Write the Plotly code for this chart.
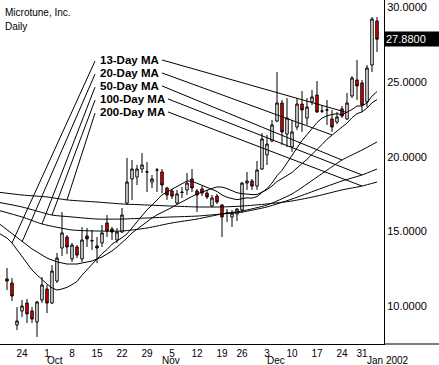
import plotly.graph_objects as go
import pandas as pd

# ---------------- data ----------------
HOLIDAYS = ["2001-11-22", "2001-12-25", "2002-01-01"]
trade_days = [d.strftime("%Y-%m-%d") for d in pd.bdate_range("2001-09-17", "2002-01-04")
              if d.strftime("%Y-%m-%d") not in HOLIDAYS]
# trading-day index (Sep 19 2001 = 0)
IDX = {d: i - 2 for i, d in enumerate(trade_days)}
candle_dates = trade_days[2:]

opens = [11.83, 11.56, 8.75, 9.69, 10.22, 9.69, 8.95, 10.42, 11.16, 10.22,
         11.69, 13.90, 14.64, 13.17, 13.97, 13.17, 14.71, 14.37, 14.04, 14.24,
         15.58, 15.17, 14.44, 14.97, 16.91, 18.52, 18.65, 19.19, 18.99, 18.32,
         19.12, 18.99, 17.92, 17.72, 16.91, 17.65, 17.79, 18.52, 17.72, 17.85,
         17.58, 16.71, 17.38, 16.78, 16.24, 15.98, 16.18, 16.45, 18.25, 18.39,
         18.05, 19.19, 20.13, 21.06, 22.40, 23.61, 21.53, 20.66, 22.00, 23.54,
         22.60, 23.68, 24.14, 23.07, 23.14, 22.54, 22.33, 23.21, 22.54, 24.08,
         25.15, 24.95, 23.68, 26.15, 29.10]
highs = [12.56, 11.89, 9.95, 10.42, 10.49, 9.95, 10.36, 11.96, 11.43, 12.76,
         13.57, 16.31, 14.77, 14.24, 14.10, 15.31, 15.24, 15.11, 14.64, 15.44,
         16.11, 15.31, 15.24, 16.58, 19.93, 19.79, 19.46, 20.26, 19.66, 18.79,
         19.26, 19.19, 17.99, 17.85, 17.79, 17.99, 18.92, 19.19, 17.85, 18.05,
         17.79, 17.45, 17.52, 16.85, 16.51, 16.45, 16.58, 18.32, 18.99, 18.52,
         19.73, 21.60, 21.47, 22.47, 25.68, 23.81, 23.94, 22.47, 23.94, 24.41,
         23.94, 24.48, 25.08, 23.47, 23.81, 23.14, 23.01, 23.41, 24.28, 25.41,
         26.49, 25.15, 26.15, 29.36, 29.36]
lows = [11.09, 10.36, 8.41, 9.28, 8.88, 8.88, 7.95, 10.22, 9.55, 10.15,
        11.56, 13.37, 13.50, 12.97, 13.23, 12.97, 13.97, 13.77, 12.90, 13.97,
        14.64, 14.44, 14.24, 14.91, 16.78, 17.12, 18.12, 18.92, 17.65, 17.92,
        17.65, 17.58, 17.12, 17.18, 16.85, 17.25, 17.45, 17.65, 16.31, 17.38,
        17.18, 16.65, 16.85, 14.64, 15.64, 15.31, 15.71, 16.24, 17.79, 17.79,
        17.79, 19.12, 19.46, 21.00, 22.33, 20.80, 20.66, 20.33, 21.80, 21.67,
        22.14, 23.47, 22.94, 22.94, 22.14, 21.67, 22.20, 22.60, 22.47, 23.94,
        23.81, 23.01, 23.34, 25.68, 27.02]
closes = [11.69, 10.69, 9.02, 10.02, 9.49, 9.15, 10.29, 11.43, 10.22, 12.36,
          13.23, 14.91, 13.97, 14.10, 13.43, 14.44, 14.51, 14.40, 13.90, 14.91,
          15.04, 14.97, 14.97, 16.11, 18.32, 19.19, 19.19, 19.46, 19.00, 18.52,
          19.12, 18.12, 17.45, 17.38, 17.52, 17.62, 18.25, 17.92, 17.45, 17.58,
          17.32, 17.25, 16.98, 15.98, 16.24, 16.24, 16.51, 18.25, 18.39, 18.05,
          19.12, 21.20, 20.86, 22.14, 23.61, 21.67, 22.60, 21.67, 23.54, 23.14,
          23.34, 24.01, 23.01, 23.07, 23.14, 22.00, 22.67, 22.74, 23.61, 25.28,
          24.75, 23.47, 25.95, 29.23, 27.88]

# moving averages
ma13_dates = trade_days
ma13_vals = [14.97, 14.77, 14.57, 14.24, 13.77, 13.30, 12.90, 12.43, 12.10, 11.76,
             11.49, 11.23, 11.09, 11.16, 11.27, 11.45, 11.66, 12.08, 12.42, 12.80,
             13.17, 13.52, 13.80, 14.16, 14.36, 14.59, 14.85, 15.25, 15.64, 16.10,
             16.46, 16.77, 17.13, 17.46, 17.65, 17.83, 18.03, 18.23, 18.39, 18.37,
             18.23, 18.11, 17.94, 17.80, 17.69, 17.45, 17.30, 17.21, 17.14, 17.20,
             17.26, 17.24, 17.34, 17.62, 17.88, 18.25, 18.74, 19.10, 19.61, 20.03,
             20.58, 21.10, 21.49, 21.92, 22.30, 22.60, 22.75, 22.84, 22.89, 22.82,
             22.97, 23.17, 23.41, 23.40, 23.62, 24.07, 24.37]
ma20_dates = trade_days
ma20_vals = [15.64, 15.38, 15.11, 14.84, 14.57, 14.30, 14.04, 13.84, 13.64, 13.43,
             13.23, 13.10, 12.97, 12.90, 12.83, 12.83, 12.83, 12.90, 12.97, 13.03,
             13.17, 13.30, 13.50, 13.70, 13.97, 14.24, 14.57, 14.91, 15.17, 15.44,
             15.71, 15.91, 16.12, 16.28, 16.45, 16.62, 16.82, 16.98, 17.17, 17.35,
             17.52, 17.66, 17.77, 17.89, 17.99, 17.98, 17.88, 17.73, 17.60, 17.54,
             17.50, 17.48, 17.48, 17.64, 17.81, 18.05, 18.35, 18.55, 18.77, 18.96,
             19.26, 19.54, 19.84, 20.17, 20.48, 20.83, 21.18, 21.47, 21.77, 22.00,
             22.26, 22.62, 22.90, 23.01, 23.27, 23.62, 23.84]
ma50_dates = ["2001-09-17", "2001-09-24", "2001-09-28", "2001-10-08", "2001-10-15",
              "2001-10-22", "2001-10-29", "2001-11-05", "2001-11-12", "2001-11-19",
              "2001-11-26", "2001-12-03", "2001-12-10", "2001-12-17", "2001-12-24",
              "2001-12-31", "2002-01-04"]
ma50_vals = [16.45, 15.98, 15.51, 15.11, 15.04, 15.04, 15.24, 15.58, 15.84, 16.18,
             16.38, 16.78, 17.52, 18.65, 19.79, 20.46, 21.00]
ma100_dates = ["2001-09-17", "2001-09-24", "2001-10-02", "2001-10-08", "2001-10-15",
               "2001-10-22", "2001-10-29", "2001-11-05", "2001-11-12", "2001-11-19",
               "2001-11-26", "2001-12-03", "2001-12-10", "2001-12-17", "2001-12-24",
               "2001-12-31", "2002-01-04"]
ma100_vals = [16.98, 16.65, 16.11, 15.98, 15.84, 15.84, 15.91, 15.98, 16.04, 16.18,
              16.31, 16.65, 17.18, 17.79, 18.39, 18.79, 19.19]
ma200_dates = ["2001-09-17", "2001-09-24", "2001-10-01", "2001-10-05", "2001-10-15",
               "2001-10-22", "2001-10-29", "2001-11-05", "2001-11-12", "2001-11-19",
               "2001-11-26", "2001-12-03", "2001-12-10", "2001-12-17", "2001-12-24",
               "2001-12-31", "2002-01-04"]
ma200_vals = [17.65, 17.45, 17.32, 17.12, 16.98, 16.85, 16.78, 16.71, 16.65, 16.65,
              16.71, 16.85, 17.05, 17.38, 17.79, 18.05, 18.32]

ma_names = ["13-Day MA", "20-Day MA", "50-Day MA", "100-Day MA", "200-Day MA"]
label_prices = [26.49, 25.62, 24.75, 23.88, 23.01]
left_end_dates = ["2001-09-20", "2001-09-24", "2001-09-28", "2001-10-02", "2001-10-05"]
right_end_dates = ["2001-12-26", "2001-12-20", "2001-12-24", "2001-12-31", "2001-12-31"]

tick_dates = ["2001-09-24", "2001-10-01", "2001-10-08", "2001-10-15", "2001-10-22",
              "2001-10-29", "2001-11-05", "2001-11-12", "2001-11-19", "2001-11-26",
              "2001-12-03", "2001-12-10", "2001-12-17", "2001-12-24", "2001-12-31"]
tick_text = ["24", "1", "8", "15", "22", "29", "5", "12", "19", "26", "3", "10", "17", "24", "31"]
month_dates = ["2001-10-01", "2001-11-01", "2001-12-03", "2002-01-02"]
month_text = ["Oct", "Nov", "Dec", "Jan 2002"]
price_ticks = [10, 15, 20, 25, 30]
last_price = closes[-1]

# ---------------- figure ----------------
FONT = "Arial, Liberation Sans, Helvetica, sans-serif"
fig = go.Figure()

ma_series = [(ma13_dates, ma13_vals, "linear"), (ma20_dates, ma20_vals, "linear"),
             (ma50_dates, ma50_vals, "spline"), (ma100_dates, ma100_vals, "spline"),
             (ma200_dates, ma200_vals, "spline")]
for name, (ds, vs, shp) in zip(ma_names, ma_series):
    fig.add_trace(go.Scatter(x=[IDX[d] for d in ds], y=vs, mode="lines", name=name,
                             line=dict(color="black", width=1, shape=shp, smoothing=0.6),
                             hoverinfo="skip"))

fig.add_trace(go.Candlestick(
    x=[IDX[d] for d in candle_dates], open=opens, high=highs, low=lows, close=closes,
    increasing=dict(line=dict(color="black", width=1), fillcolor="white"),
    decreasing=dict(line=dict(color="black", width=1), fillcolor="red"),
    whiskerwidth=0, name="Microtune"))

# labels and leader lines
LABEL_X = 18.2      # trading-day position of label text
LEFT_START = 17.6
RIGHT_START = [31.0, 31.0, 31.0, 32.2, 32.2]
shapes = []
annotations = []
for k, (name, lp) in enumerate(zip(ma_names, label_prices)):
    ds, vs, _ = ma_series[k]
    lv = dict(zip(ds, vs))
    annotations.append(dict(x=LABEL_X, y=lp, xref="x", yref="y", text="<b>%s</b>" % name,
                            showarrow=False, xanchor="left", yanchor="middle",
                            font=dict(size=11.5, color="black", family=FONT)))
    shapes.append(dict(type="line", xref="x", yref="y", x0=LEFT_START, y0=lp - 0.08,
                       x1=IDX[left_end_dates[k]], y1=lv[left_end_dates[k]],
                       line=dict(color="black", width=1)))
    shapes.append(dict(type="line", xref="x", yref="y", x0=RIGHT_START[k], y0=lp,
                       x1=IDX[right_end_dates[k]], y1=lv[right_end_dates[k]],
                       line=dict(color="black", width=1)))

# bottom line continues under the price scale
shapes.append(dict(type="line", xref="paper", yref="paper", x0=1, x1=1.2, y0=0, y1=0,
                   line=dict(color="black", width=1)))

annotations.append(dict(x=0.008, y=0.963, xref="paper", yref="paper", text="Microtune, Inc.",
                        showarrow=False, xanchor="left", yanchor="middle",
                        font=dict(size=10, color="black", family=FONT)))
annotations.append(dict(x=0.008, y=0.922, xref="paper", yref="paper", text="Daily",
                        showarrow=False, xanchor="left", yanchor="middle",
                        font=dict(size=10, color="black", family=FONT)))
for d, t in zip(month_dates, month_text):
    annotations.append(dict(x=IDX[d], y=-0.047, xref="x", yref="paper", text=t,
                            showarrow=False, xanchor="left", yanchor="middle", xshift=-2,
                            font=dict(size=10, color="black", family=FONT)))
annotations.append(dict(x=1, y=last_price, xref="paper", yref="y", text="%.4f" % last_price,
                        showarrow=False, xanchor="left", yanchor="middle", align="left",
                        bgcolor="black", width=52, borderpad=1,
                        font=dict(size=11, color="white", family=FONT)))

fig.update_layout(
    width=439, height=365, margin=dict(l=0, r=55, t=0, b=21, pad=0),
    plot_bgcolor="white", paper_bgcolor="white", showlegend=False,
    font=dict(family=FONT, size=11, color="black"),
    shapes=shapes, annotations=annotations,
    xaxis=dict(range=[-1.4, 75.4], rangeslider=dict(visible=False), showgrid=False,
               zeroline=False, showline=True, linecolor="black", linewidth=1, ticks="",
               tickvals=[IDX[d] for d in tick_dates], ticktext=tick_text,
               tickfont=dict(size=10, family=FONT)),
    yaxis=dict(range=[7.477, 30.502], side="right", showgrid=False, zeroline=False,
               showline=True, linecolor="black", linewidth=1, ticks="",
               tickvals=price_ticks, tickformat=".4f",
               tickfont=dict(size=11, family=FONT)),
)

fig.write_html("out.html", config={"displayModeBar": False},
               post_script="document.body.style.margin='0';document.body.style.overflow='hidden';")
